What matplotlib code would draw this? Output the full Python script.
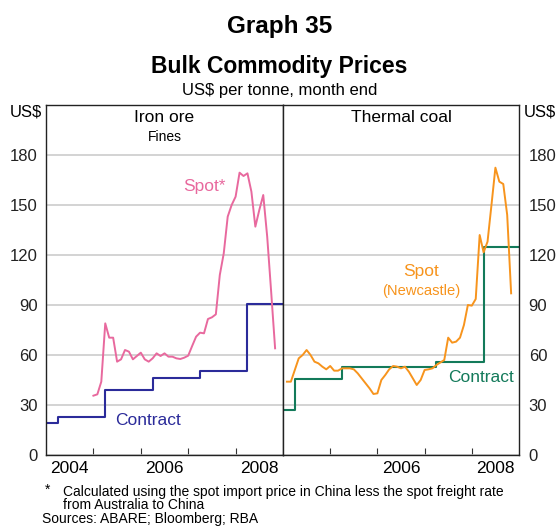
import pandas as pd
import matplotlib
matplotlib.use("Agg")
import matplotlib.pyplot as plt

plt.rcParams["font.family"] = ["Liberation Sans", "DejaVu Sans"]

# ---- data (US$ per tonne, month end) ----
# iron ore spot, Dec 2004 - Oct 2008
iron_spot = [35.6, 36.4, 44, 79, 70.4, 70.4, 56, 57.4, 63, 62,
             57.4, 59.4, 61.4, 57.4, 56, 58, 61, 59.4, 61, 59,
             59, 58, 57.6, 58.4, 59.6, 65.4, 71,
             73.4, 73, 81.6, 82.6, 84.4, 108, 121, 143, 150, 155,
             169.4, 167.4, 169, 158, 137, 147, 156, 131, 98, 64]
iron_start = "2004-12-31"

# thermal coal spot (Newcastle), Jan 2004 - Oct 2008
coal_spot = [44, 44, 51, 58, 60, 63, 60, 56, 55, 53,
             51.4, 53.4, 50.6, 50.6, 52, 52, 52, 51.4, 49, 46,
             43, 40, 36.6, 37, 45, 48, 51.4, 53.4,
             53, 52, 53, 50, 46, 42, 45, 51, 51.4, 52, 54, 55.5, 57,
             70.4, 67.4, 68, 70.4, 78, 90, 89.6, 93.6, 132, 121.6,
             128, 150, 172.4, 164, 162.6, 144, 97]
coal_start = "2004-01-31"

# annual contract prices (Japanese fiscal year, from April)
contract_years = [2004.0, 2004.25, 2005.25, 2006.25, 2007.25, 2008.25, 2009.0]
iron_contract = [19, 22.8, 39, 46, 50.6, 90.6, 90.6]
coal_contract = [27, 45.4, 52.6, 52.6, 55.8, 125, 125]


def frac_years(start, n):
    d = pd.date_range(start, periods=n, freq="ME")
    return d.year + d.month / 12.0


PINK = "#e8699e"
NAVY = "#2b2b9a"
ORANGE = "#f7941d"
GREEN = "#137a5a"
GRID = "#c8c8c8"

fig = plt.figure(figsize=(5.59, 5.26), dpi=100)
W, H = 559, 526
axL = fig.add_axes([46 / W, 71 / H, 237 / W, 350 / H])
axR = fig.add_axes([283 / W, 71 / H, 236 / W, 350 / H])

for ax in (axL, axR):
    ax.set_xlim(2004, 2009)
    ax.set_ylim(0, 210)
    ax.set_yticks([0, 30, 60, 90, 120, 150, 180])
    ax.grid(axis="y", color=GRID, lw=1.1)
    ax.set_axisbelow(True)
    ax.set_xticks([2005, 2006, 2007, 2008])
    ax.set_xticklabels([])
    ax.tick_params(axis="x", which="major", direction="in", length=5, color="#333333")
    ax.tick_params(axis="x", which="minor", length=0, labelsize=12.5, pad=4)
    ax.tick_params(axis="y", length=0, labelsize=12, colors="#222222")
    for s in ax.spines.values():
        s.set_color("#222222")
        s.set_linewidth(1.0)

axL.set_xticks([2004.5, 2006.5, 2008.5], minor=True)
axL.set_xticklabels(["2004", "2006", "2008"], minor=True)
axR.set_xticks([2006.5, 2008.5], minor=True)
axR.set_xticklabels(["2006", "2008"], minor=True)
axL.tick_params(axis="y", pad=6)
axR.yaxis.tick_right()
axR.tick_params(axis="y", pad=7)

# iron ore
axL.plot(contract_years, iron_contract, drawstyle="steps-post", color=NAVY, lw=1.5)
axL.plot(frac_years(iron_start, len(iron_spot)), iron_spot, color=PINK, lw=1.4)
axL.text(2006.16, 20.5, "Contract", color=NAVY, fontsize=12.5, ha="center", va="center")
axL.text(2007.35, 161, "Spot*", color=PINK, fontsize=12.5, ha="center", va="center")
axL.text(0.5, 0.963, "Iron ore", transform=axL.transAxes, fontsize=12.5, ha="center", va="center")
axL.text(0.5, 0.909, "Fines", transform=axL.transAxes, fontsize=10, ha="center", va="center")

# thermal coal
axR.plot(contract_years, coal_contract, drawstyle="steps-post", color=GREEN, lw=1.5)
axR.plot(frac_years(coal_start, len(coal_spot)), coal_spot, color=ORANGE, lw=1.4)
axR.text(2008.19, 46.2, "Contract", color=GREEN, fontsize=12.5, ha="center", va="center")
axR.text(2006.92, 110, "Spot", color=ORANGE, fontsize=12.5, ha="center", va="center")
axR.text(2006.92, 98.4, "(Newcastle)", color=ORANGE, fontsize=10.6, ha="center", va="center")
axR.text(0.5, 0.963, "Thermal coal", transform=axR.transAxes, fontsize=12.5, ha="center", va="center")

# titles and notes
fig.text(0.5, 1 - 27 / H, "Graph 35", fontsize=17.5, fontweight="bold", ha="center", va="center")
fig.text(0.5, 1 - 67 / H, "Bulk Commodity Prices", fontsize=16.5, fontweight="bold", ha="center", va="center")
fig.text(0.5, 1 - 90 / H, "US$ per tonne, month end", fontsize=12, ha="center", va="center")
fig.text(42 / W, 1 - 112 / H, "US$", fontsize=12, ha="right", va="center")
fig.text(524 / W, 1 - 112 / H, "US$", fontsize=12, ha="left", va="center")

fig.text(45 / W, 1 - 490 / H, "*", fontsize=10, ha="left", va="center")
fig.text(63 / W, 1 - 492 / H, "Calculated using the spot import price in China less the spot freight rate",
         fontsize=10, ha="left", va="center")
fig.text(63 / W, 1 - 505 / H, "from Australia to China", fontsize=10, ha="left", va="center")
fig.text(42 / W, 1 - 519 / H, "Sources: ABARE; Bloomberg; RBA", fontsize=10, ha="left", va="center")

fig.savefig("out.png", dpi=100)
